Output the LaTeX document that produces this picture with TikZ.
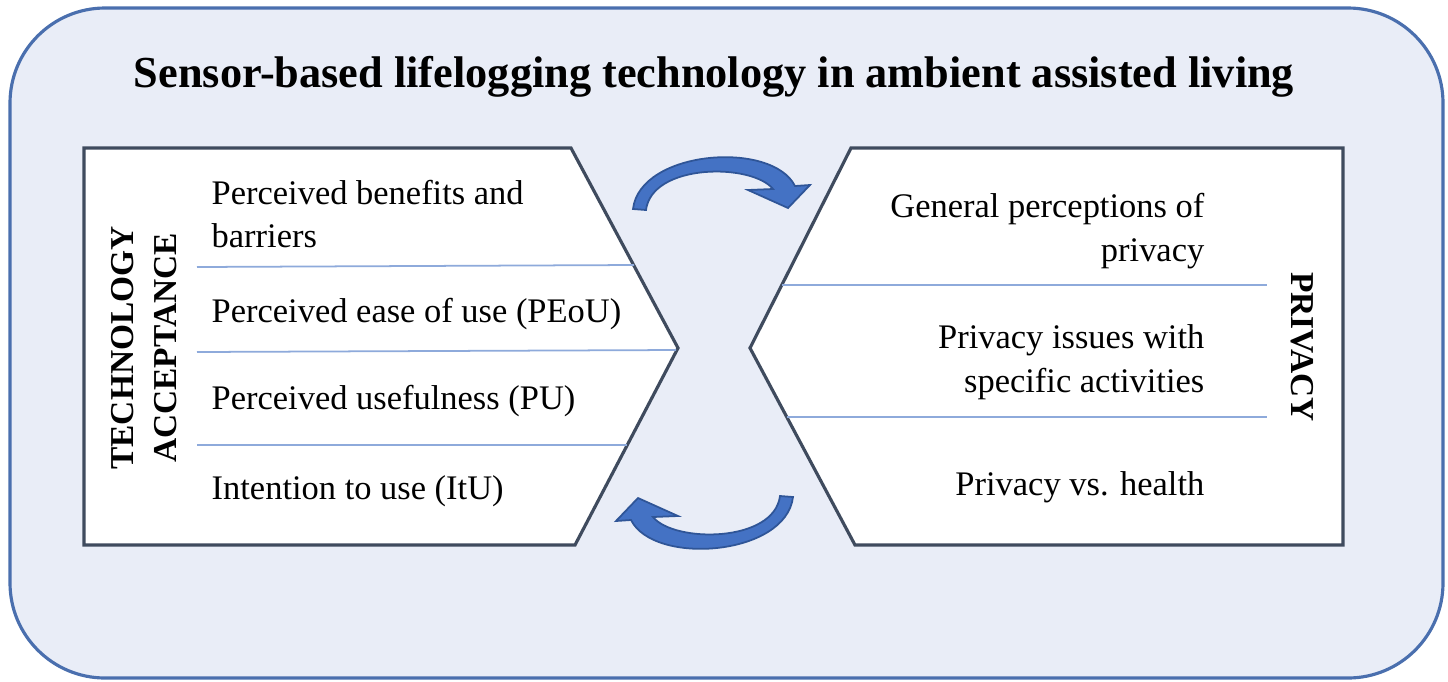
\documentclass[tikz,border=0pt]{standalone}
\usepackage{fontspec}
\setmainfont{Liberation Serif}
\definecolor{bgcol}{HTML}{E9EDF7}
\definecolor{framecol}{HTML}{4A6FAE}
\definecolor{boxcol}{HTML}{3F4B5E}
\definecolor{sepcol}{HTML}{8EAADB}
\definecolor{arrowcol}{HTML}{4472C4}
\definecolor{arrowline}{HTML}{2F5597}
\begin{document}
\begin{tikzpicture}[x=0.01cm, y=-0.01cm]
    % Stili
    \tikzstyle{cornice}=[draw=framecol, fill=bgcol, line width=0.9pt, rounded corners=0.95cm]
    \tikzstyle{pannello}=[draw=boxcol, fill=white, line width=0.9pt]
    \tikzstyle{divisore}=[draw=sepcol, line width=0.5pt]
    \tikzstyle{voce}=[font=\fontsize{9.8}{12.4}\selectfont, inner sep=0pt]
    \tikzstyle{etichetta}=[font=\bfseries\fontsize{9.5}{12}\selectfont, align=center, inner sep=0pt]
    \tikzstyle{freccia}=[draw=arrowline, fill=arrowcol, line width=0.5pt]

    \useasboundingbox (0,0) rectangle (1448,681);

    % Cornice esterna
    \draw[cornice] (10,8) rectangle (1443,678);

    % Titolo
    \node[font=\bfseries\fontsize{12.6}{15}\selectfont, anchor=base, inner sep=0pt] (titolo) at (714,87) {Sensor-based lifelogging technology in ambient assisted living};

    % Pannelli
    \draw[pannello] (84,148) -- (571,148) -- (678,348) -- (575,545) -- (84,545) -- cycle;
    \draw[pannello] (851,148) -- (1343,148) -- (1343,545) -- (855,545) -- (750,348) -- cycle;

    % Divisori
    \draw[divisore] (197,267) -- (634,265);
    \draw[divisore] (197,352) -- (676,350);
    \draw[divisore] (197,445) -- (627,445);
    \draw[divisore] (782,285) -- (1267,285);
    \draw[divisore] (787,417) -- (1267,417);

    % Etichette verticali
    \node[etichetta, rotate=90] (accettazione) at (144,348) {TECHNOLOGY\\ACCEPTANCE};
    \node[etichetta, rotate=-90] (privacy) at (1302,347) {PRIVACY};

    % Voci a sinistra
    \node[voce, anchor=west, align=left] (benefici) at (211,214) {Perceived benefits and\\barriers};
    \node[voce, anchor=west] (peou) at (211,314) {Perceived ease of use (PEoU)};
    \node[voce, anchor=west] (pu) at (211,401) {Perceived usefulness (PU)};
    \node[voce, anchor=west] (itu) at (211,491) {Intention to use (ItU)};

    % Voci a destra
    \node[voce, anchor=east, align=right] (generale) at (1205,231) {General perceptions of\\privacy};
    \node[voce, anchor=east, align=right] (attivita) at (1205,362) {Privacy issues with\\specific activities};
    \node[voce, anchor=east] (salute) at (1205,487) {Privacy vs. health};

    % Frecce curve
    \draw[freccia] (633,209) .. controls (640,150) and (772,140) .. (795,186) -- (810,185) -- (788,208) -- (748,190) -- (773,189) .. controls (752,163) and (652,163) .. (646,210) -- cycle;
    \draw[freccia, rotate around={180:(713,353)}] (633,209) .. controls (640,150) and (772,140) .. (795,186) -- (810,185) -- (788,208) -- (748,190) -- (773,189) .. controls (752,163) and (652,163) .. (646,210) -- cycle;
\end{tikzpicture}
\end{document}
